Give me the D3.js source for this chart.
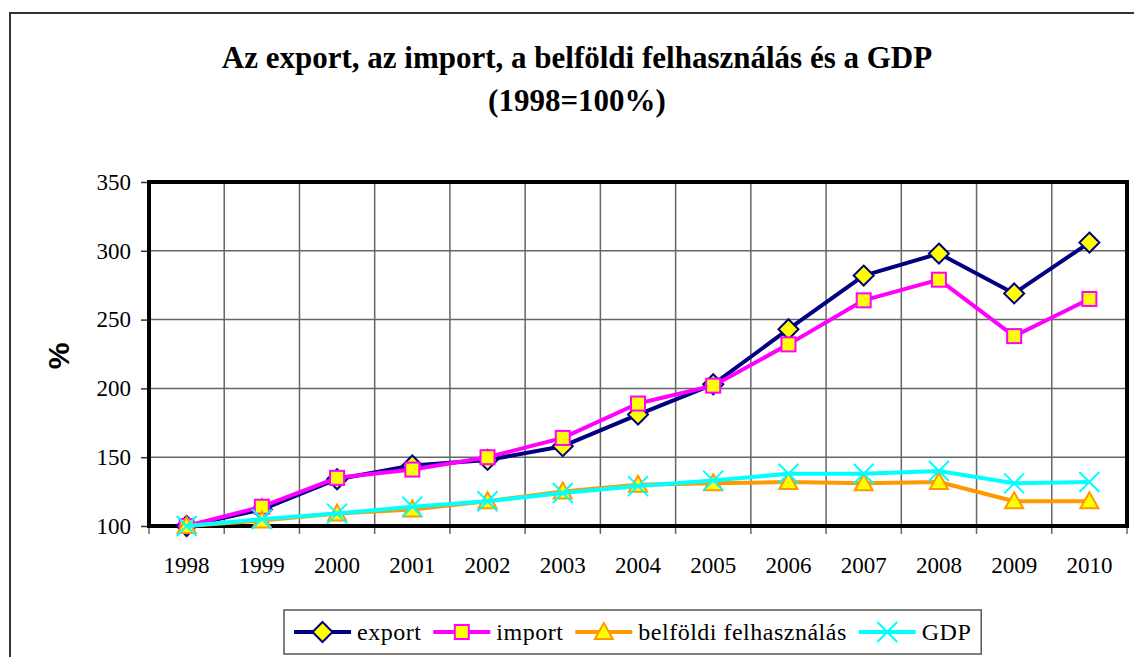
<!DOCTYPE html>
<html>
<head>
<meta charset="utf-8">
<style>
  body { margin: 0; background: #fff; }
  svg { display: block; }
</style>
</head>
<body>
<svg width="1134" height="657"></svg>
<script src="https://d3js.org/d3.v7.min.js"></script>
<script>
  var years = ["1998", "1999", "2000", "2001", "2002", "2003", "2004",
               "2005", "2006", "2007", "2008", "2009", "2010"];

  var exportVals   = [100, 112, 134, 144, 148, 158, 181, 203, 243, 282, 298, 269, 306];
  var importVals   = [100, 114, 135, 141, 150, 164, 189, 202, 232, 264, 279, 238, 265];
  var belfoldiVals = [100, 104, 109, 112, 118, 125, 130, 131, 132, 131, 132, 118, 118];
  var gdpVals      = [100, 105, 109, 114, 118, 124, 129, 133, 138, 138, 140, 131, 132];

  var yTicks = [100, 150, 200, 250, 300, 350];

  var series = [
    { name: "export", values: exportVals, color: "#000080", marker: "diamond" },
    { name: "import", values: importVals, color: "#ff00ff", marker: "square" },
    { name: "belföldi felhasználás", values: belfoldiVals, color: "#ff9900", marker: "triangle" },
    { name: "GDP", values: gdpVals, color: "#00ffff", marker: "cross" }
  ];

  var svg = d3.select("svg"),
      margin = {top: 182, right: 7, bottom: 131, left: 149},
      width = +svg.attr("width") - margin.left - margin.right,
      height = +svg.attr("height") - margin.top - margin.bottom;

  var serif = "'Liberation Serif', 'Times New Roman', serif";

  // outer chart border
  svg.append("rect")
      .attr("x", 10).attr("y", 13)
      .attr("width", 1140).attr("height", 680)
      .attr("fill", "none")
      .attr("stroke", "#333")
      .attr("stroke-width", 2);

  // title
  var title = svg.append("text")
      .attr("text-anchor", "middle")
      .attr("font-family", serif)
      .attr("font-weight", "bold")
      .attr("font-size", 31)
      .attr("fill", "#000");
  title.append("tspan").attr("x", 577).attr("y", 68)
      .text("Az export, az import, a belföldi felhasználás és a GDP");
  title.append("tspan").attr("x", 577).attr("y", 111)
      .text("(1998=100%)");

  var g = svg.append("g").attr("transform", "translate(" + margin.left + "," + margin.top + ")");

  var x = d3.scaleBand().domain(years).range([0, width]);
  var y = d3.scaleLinear().domain([100, 350]).range([height, 0]);

  // grid
  g.append("g")
      .selectAll("line")
      .data(yTicks.slice(1, -1))
      .enter().append("line")
      .attr("x1", 0).attr("x2", width)
      .attr("y1", function(d) { return y(d); })
      .attr("y2", function(d) { return y(d); })
      .attr("stroke", "#666")
      .attr("stroke-width", 1.5);

  g.append("g")
      .selectAll("line")
      .data(years.slice(1))
      .enter().append("line")
      .attr("x1", function(d) { return x(d); })
      .attr("x2", function(d) { return x(d); })
      .attr("y1", 0).attr("y2", height)
      .attr("stroke", "#666")
      .attr("stroke-width", 1.5);

  // y axis
  var yAxis = g.append("g")
      .call(d3.axisLeft(y).tickValues(yTicks).tickSize(8).tickPadding(10));
  yAxis.select(".domain").remove();
  yAxis.selectAll(".tick line").attr("stroke", "#333").attr("stroke-width", 1.5);
  yAxis.selectAll("text")
      .attr("font-family", serif)
      .attr("font-size", 23)
      .attr("fill", "#000");

  // x axis: ticks between categories
  var xAxis = g.append("g")
      .attr("transform", "translate(0," + height + ")");
  xAxis.selectAll("line")
      .data(years.concat(["end"]))
      .enter().append("line")
      .attr("x1", function(d, i) { return i * x.step(); })
      .attr("x2", function(d, i) { return i * x.step(); })
      .attr("y1", 0).attr("y2", 8)
      .attr("stroke", "#666")
      .attr("stroke-width", 1.5);
  xAxis.selectAll("text")
      .data(years)
      .enter().append("text")
      .attr("x", function(d) { return x(d) + x.bandwidth() / 2; })
      .attr("y", 47)
      .attr("text-anchor", "middle")
      .attr("font-family", serif)
      .attr("font-size", 23)
      .attr("fill", "#000")
      .text(function(d) { return d; });

  // plot frame
  g.append("rect")
      .attr("width", width).attr("height", height)
      .attr("fill", "none")
      .attr("stroke", "#000")
      .attr("stroke-width", 4);

  // y label
  svg.append("text")
      .attr("transform", "translate(69,356) rotate(-90)")
      .attr("text-anchor", "middle")
      .attr("font-family", "'Liberation Sans', Arial, sans-serif")
      .attr("font-weight", "bold")
      .attr("font-size", 30)
      .attr("fill", "#000")
      .text("%");

  function drawMarker(sel, type, color) {
    if (type === "diamond") {
      sel.append("path").attr("d", "M0,-10L10,0L0,10L-10,0Z")
          .attr("fill", "#ffff00").attr("stroke", color).attr("stroke-width", 2);
    } else if (type === "square") {
      sel.append("rect").attr("x", -7).attr("y", -7).attr("width", 14).attr("height", 14)
          .attr("fill", "#ffff00").attr("stroke", color).attr("stroke-width", 2);
    } else if (type === "triangle") {
      sel.append("path").attr("d", "M0,-9L9,7L-9,7Z")
          .attr("fill", "#ffff00").attr("stroke", color).attr("stroke-width", 2);
    } else {
      sel.append("path").attr("d", "M-10,-10L10,10M-10,10L10,-10")
          .attr("fill", "none").attr("stroke", color).attr("stroke-width", 2);
    }
  }

  var line = d3.line()
      .x(function(d, i) { return x(years[i]) + x.bandwidth() / 2; })
      .y(function(d) { return y(d); });

  series.forEach(function(s) {
    var sg = g.append("g");
    sg.append("path")
        .datum(s.values)
        .attr("fill", "none")
        .attr("stroke", s.color)
        .attr("stroke-width", 4)
        .attr("stroke-linejoin", "round")
        .attr("d", line);
    sg.selectAll("g.m")
        .data(s.values)
        .enter().append("g")
        .attr("class", "m")
        .attr("transform", function(d, i) {
          return "translate(" + (x(years[i]) + x.bandwidth() / 2) + "," + y(d) + ")";
        })
        .each(function() { drawMarker(d3.select(this), s.marker, s.color); });
  });

  // legend
  var legend = svg.append("g");
  var legBox = legend.append("rect")
      .attr("fill", "#fff")
      .attr("stroke", "#555")
      .attr("stroke-width", 1.5);
  var lx = 294, ly = 632;
  series.forEach(function(s) {
    var item = legend.append("g");
    item.append("line")
        .attr("x1", lx).attr("x2", lx + 57)
        .attr("y1", ly).attr("y2", ly)
        .attr("stroke", s.color).attr("stroke-width", 4);
    var m = item.append("g").attr("transform", "translate(" + (lx + 28.5) + "," + ly + ")");
    drawMarker(m, s.marker, s.color);
    var t = item.append("text")
        .attr("x", lx + 63).attr("y", ly + 8)
        .attr("font-family", serif)
        .attr("font-size", 24)
        .attr("letter-spacing", 0.5)
        .attr("fill", "#000")
        .text(s.name);
    lx = lx + 63 + t.node().getComputedTextLength() + 12;
  });
  legBox.attr("x", 284).attr("y", 610)
      .attr("width", lx - 284 - 2).attr("height", 44);
</script>
</body>
</html>
